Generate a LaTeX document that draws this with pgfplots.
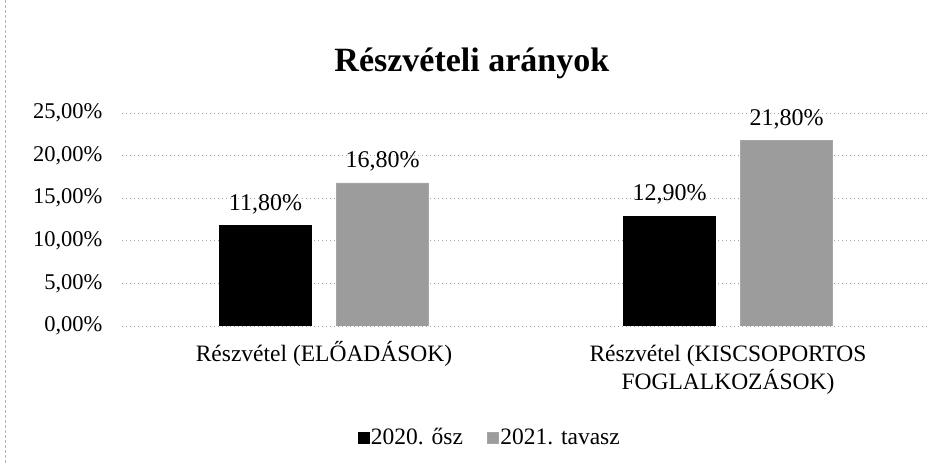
\documentclass[border=0pt]{standalone}
\usepackage{pgfplots}
\pgfplotsset{compat=1.18}
\usepackage{fontspec}
\setmainfont{Liberation Serif}
\definecolor{barblack}{HTML}{000000}
\definecolor{bargray}{HTML}{9C9C9C}
\begin{document}
\begin{tikzpicture}[x=1pt,y=1pt]
\path[use as bounding box] (0,0) rectangle (945,463);
\draw[gray!60, densely dashed, line width=0.6pt] (5,0) -- (5,463);
\begin{axis}[
  at={(122pt,137pt)}, anchor=south west,
  scale only axis, width=808pt, height=213pt,
  ymin=0, ymax=25, xmin=-0.5, xmax=1.5,
  ybar=25pt, bar width=92pt,
  xtick={0,1},
  xticklabels={{Részvétel (ELŐADÁSOK)},{Részvétel\vphantom{Ő} (KISCSOPORTOS\\FOGLALKOZÁSOK)}},
  xticklabel style={align=center, anchor=north, font=\fontsize{23.5}{28}\selectfont, yshift=-12pt},
  ytick={0,5,10,15,20,25},
  yticklabels={{0,00\%},{5,00\%},{10,00\%},{15,00\%},{20,00\%},{25,00\%}},
  yticklabel style={font=\fontsize{22.5}{26}\selectfont, anchor=east, xshift=-16pt},
  major tick length=0pt,
  axis line style={draw=none},
  ymajorgrids, grid style={gray!70, dash pattern=on 1pt off 3pt, line width=0.6pt},
  nodes near coords={\pgfmathprintnumber[fixed, fixed zerofill, precision=2, use comma, assume math mode=true]{\pgfplotspointmeta}\%},
  nodes near coords style={font=\fontsize{24}{27}\selectfont, yshift=8pt},
  title={\textbf{Részvételi arányok}},
  title style={at={(0.433,1.206)}, anchor=center, font=\fontsize{34}{38}\selectfont},
  legend style={at={(0.455,-0.521)}, anchor=center, draw=none, fill=none, legend columns=2,
    font=\fontsize{23.5}{27}\selectfont, /tikz/every even column/.append style={column sep=22pt}},
  legend image code/.code={\fill[#1] (0pt,-6pt) rectangle (11pt,5pt);},
]
\addplot[fill=barblack, draw=black] coordinates {(0,11.8) (1,12.9)};
\addplot[fill=bargray, draw=gray!70] coordinates {(0,16.8) (1,21.8)};
\legend{2020. ősz, 2021. tavasz}
\end{axis}
\end{tikzpicture}
\end{document}
